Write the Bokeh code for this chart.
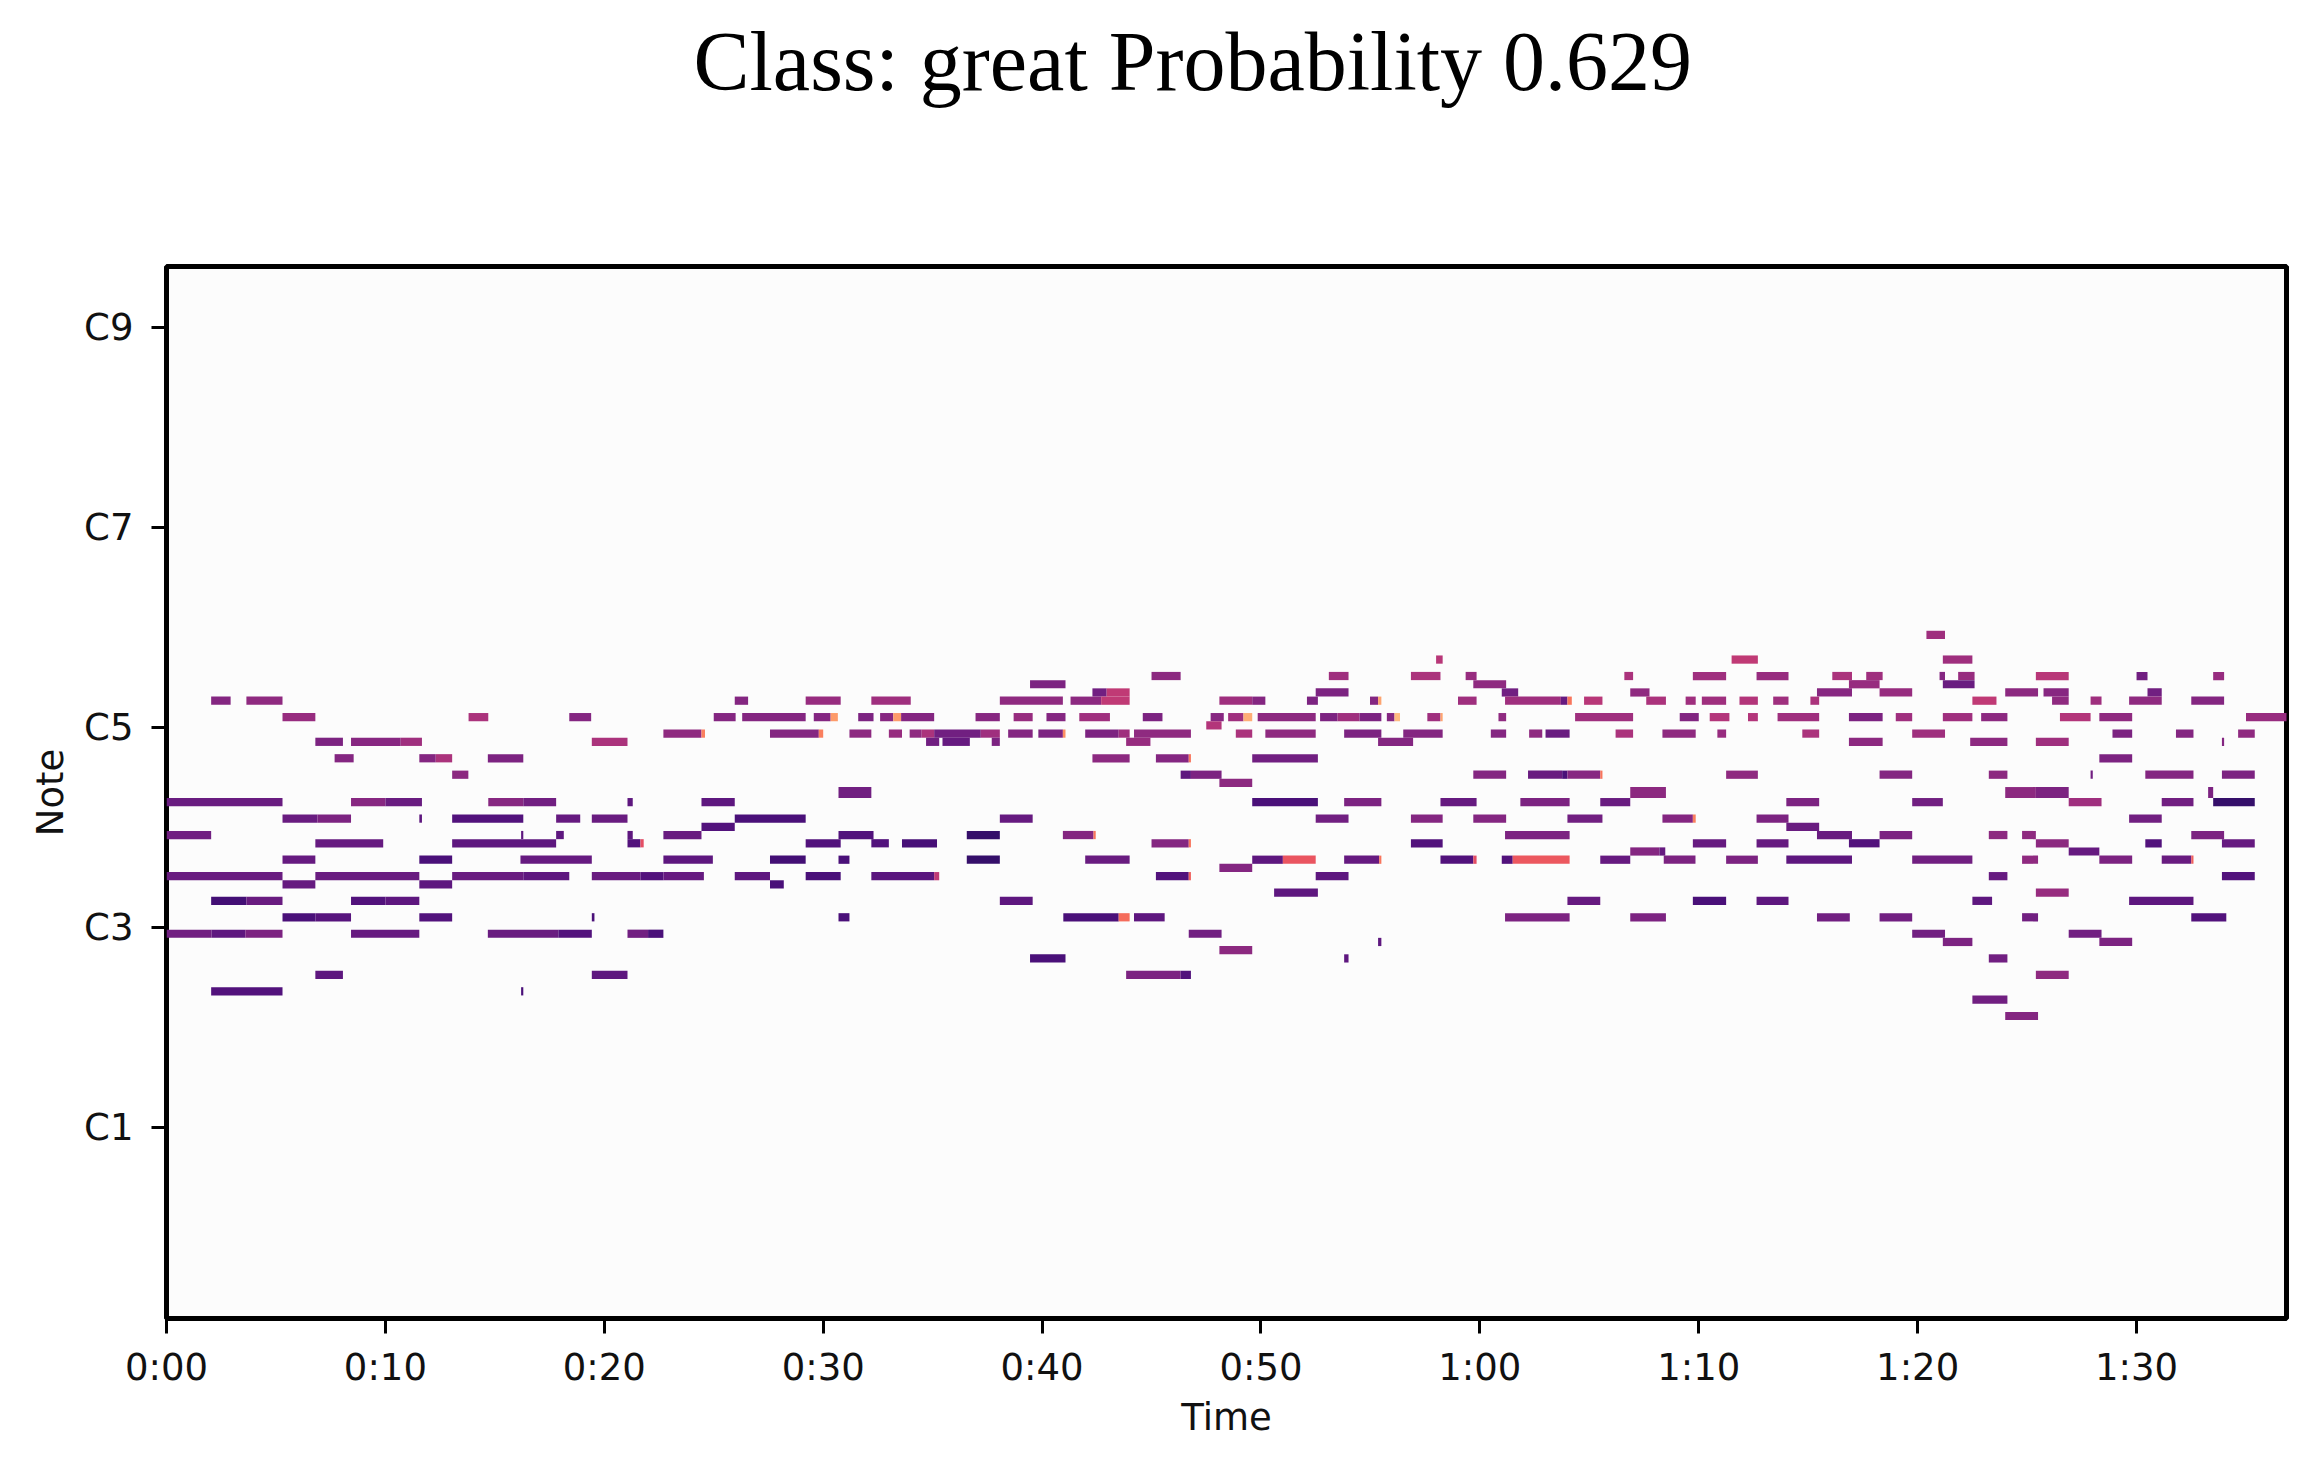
from bokeh.embed import file_html
from bokeh.models import ColumnDataSource, FixedTicker, Range1d, Title
from bokeh.palettes import Magma256
from bokeh.plotting import figure
from bokeh.resources import INLINE
from bokeh.transform import linear_cmap

TITLE = "Class: great Probability 0.629"
TIME_TICKS = [0, 10, 20, 30, 40, 50, 60, 70, 80, 90]
TIME_LABELS = ["0:00", "0:10", "0:20", "0:30", "0:40", "0:50", "1:00", "1:10", "1:20", "1:30"]
NOTE_TICKS = [24, 48, 72, 96, 120]
NOTE_LABELS = ["C1", "C3", "C5", "C7", "C9"]

# each row: (start second, end second, level 0..1)
row_83 = [(80.4, 81.25, .42)]
row_80 = [(58.0, 58.3, .48), (71.5, 72.7, .5), (81.15, 82.5, .42)]
row_78 = [(45, 46.33, .37), (53.1, 54, .42), (56.85, 58.2, .45), (59.35, 59.85, .4), (66.6, 67, .45),
          (69.73, 71.25, .42), (72.64, 74.1, .4), (76.1, 77, .45), (77.65, 78.4, .42), (81, 81.25, .35),
          (81.85, 82.6, .4), (85.4, 86.9, .48), (90, 90.5, .3), (93.5, 94, .4)]
row_77 = [(39.45, 41.07, .33), (59.7, 61.2, .38), (76.86, 78.26, .4), (81.15, 82.6, .28)]
row_76 = [(42.3, 42.95, .3), (42.95, 44, .5), (52.5, 54, .33), (61, 61.75, .3), (66.87, 67.75, .38),
          (75.4, 77, .36), (78.26, 79.75, .4), (84, 85.5, .37), (85.75, 86.9, .36), (90.5, 91.15, .3)]
row_75 = [(2.04, 2.93, .35), (3.65, 5.3, .38), (25.96, 26.57, .35), (29.2, 30.8, .4), (32.2, 34, .42),
          (38.07, 40.95, .38), (41.3, 42.7, .37), (42.7, 44, .5), (48.1, 49.6, .42), (49.6, 50.2, .35),
          (52.1, 52.6, .33), (54.98, 55.35, .35), (55.35, 55.5, .8), (59, 59.85, .42), (61.15, 63.7, .42),
          (63.7, 64, .27), (64, 64.2, .7), (64.76, 65.6, .48), (67.6, 68.5, .45), (69.4, 69.86, .42),
          (70.14, 71.25, .42), (71.86, 72.7, .47), (73.4, 74.1, .42), (75.1, 75.5, .45), (82.5, 83.6, .5),
          (86.14, 86.9, .38), (87.9, 88.4, .42), (89.66, 91.15, .38), (92.5, 94, .35)]
row_73 = [(5.3, 6.8, .4), (13.8, 14.7, .45), (18.4, 19.4, .35), (25, 26, .35), (26.3, 29.2, .35),
          (29.57, 30.34, .35), (30.34, 30.67, .78), (31.6, 32.3, .33), (32.6, 33.2, .36), (33.2, 33.56, .78),
          (33.56, 35.07, .35), (36.96, 38.07, .36), (38.7, 39.57, .4), (40.2, 41.07, .35), (41.7, 43.1, .42),
          (44.6, 45.5, .33), (47.7, 48.3, .36), (48.5, 49.2, .42), (49.2, 49.6, .82), (49.85, 52.5, .37),
          (52.7, 53.5, .33), (53.5, 54.5, .42), (54.5, 55.5, .33), (55.75, 56.1, .35), (56.1, 56.35, .85),
          (57.6, 58.2, .42), (58.2, 58.3, .8), (60.85, 61.2, .38), (64.35, 67, .42), (69.13, 70, .34),
          (70.5, 71.4, .47), (72.25, 72.7, .47), (73.6, 75.5, .42), (76.86, 78.4, .33), (79, 79.75, .42),
          (81.15, 82.5, .42), (82.9, 84.1, .37), (86.5, 87.9, .47), (88.3, 89.8, .38), (95, 97, .4)]
row_72 = [(47.5, 48.2, .47)]
row_71 = [(22.7, 24.44, .38), (24.44, 24.6, .72), (27.57, 29.8, .35), (29.8, 30, .72), (31.2, 32.2, .37),
          (33, 33.6, .4), (33.95, 34.5, .38), (34.5, 35.07, .45), (35.07, 37.2, .3), (37.2, 38.07, .42),
          (38.45, 39.57, .35), (39.83, 40.95, .33), (40.95, 41.07, .75), (41.97, 43.5, .33), (43.5, 44, .42),
          (44.2, 46.8, .38), (48.85, 49.6, .45), (50.2, 52.5, .38), (53.8, 55.5, .33), (56.5, 58.3, .35),
          (60.5, 61.2, .35), (62.25, 62.85, .38), (63, 64.1, .28), (66.2, 67, .45), (68.34, 69.86, .38),
          (70.85, 71.25, .4), (74.73, 75.5, .45), (79.75, 81.25, .42), (88.9, 89.8, .33), (91.8, 92.6, .35),
          (94.64, 95.4, .38)]
row_70 = [(6.8, 8.06, .33), (8.43, 10.7, .36), (10.7, 11.67, .42), (19.43, 21.06, .45), (34.7, 35.3, .3),
          (35.45, 36.7, .27), (37.7, 38.07, .33), (43.84, 44.95, .4), (55.35, 56.95, .35), (76.86, 78.4, .37),
          (82.4, 84.1, .37), (85.4, 86.9, .42), (93.9, 94, .35)]
row_68 = [(7.68, 8.55, .35), (11.55, 12.3, .35), (12.3, 13.05, .45), (14.68, 16.3, .33), (42.3, 44, .37),
          (45.2, 46.7, .35), (46.7, 46.8, .7), (49.6, 52.6, .3), (88.3, 89.8, .33)]
row_66 = [(13.05, 13.79, .37), (46.33, 46.8, .25), (46.8, 48.2, .33), (59.7, 61.2, .35), (62.2, 63.76, .28),
          (63.76, 64, .2), (64, 65.5, .36), (65.5, 65.6, .7), (71.25, 72.7, .38), (78.26, 79.75, .35),
          (83.25, 84.1, .37), (87.9, 88, .3), (90.4, 92.6, .35), (93.9, 95.4, .33)]
row_65 = [(48.1, 49.6, .37)]
row_64 = [(30.7, 32.2, .3), (66.87, 68.5, .37), (84, 85.4, .37), (85.4, 86.9, .33), (93.27, 93.5, .33)]
row_63 = [(0, 5.3, .28), (8.43, 10, .36), (10, 11.67, .28), (14.7, 16.3, .36), (16.3, 17.8, .3), (21.06, 21.3, .25),
          (24.44, 25.96, .25), (49.6, 52.6, .2), (53.8, 55.5, .33), (58.2, 59.85, .27), (61.85, 64.1, .33),
          (65.5, 66.87, .28), (74, 75.5, .33), (79.75, 81.15, .3), (86.9, 88.4, .42), (91.15, 92.6, .3),
          (93.5, 95.4, .15)]
row_61 = [(5.3, 6.9, .28), (6.9, 8.43, .33), (11.55, 11.67, .25), (13.05, 16.3, .22), (17.8, 18.9, .27),
          (19.43, 21.06, .28), (25.96, 29.2, .2), (38.07, 39.57, .27), (52.5, 54, .3), (56.85, 58.3, .35),
          (59.7, 61.2, .35), (64, 65.6, .3), (68.34, 69.73, .35), (69.73, 69.86, .72), (72.64, 74.1, .33),
          (89.66, 91.15, .3)]
row_60 = [(24.44, 25.96, .22), (74, 75.5, .28)]
row_59 = [(0, 2.04, .3), (16.2, 16.3, .25), (17.8, 18.15, .25), (21.06, 21.3, .25), (22.7, 24.44, .28),
          (30.7, 32.3, .22), (36.56, 38.07, .15), (40.95, 42.35, .35), (42.35, 42.45, .7), (61.15, 64.1, .33),
          (75.4, 77, .28), (78.26, 79.75, .33), (83.25, 84.1, .37), (84.77, 85.4, .38), (92.5, 94, .33)]
row_58 = [(6.8, 9.9, .27), (13.05, 17.8, .25), (21.06, 21.65, .22), (21.65, 21.8, .6), (29.2, 30.8, .22),
          (32.2, 33, .22), (33.6, 35.2, .19), (45, 46.7, .35), (46.7, 46.8, .7), (56.85, 58.3, .22),
          (69.73, 71.25, .27), (72.64, 74.1, .27), (76.86, 78.26, .22), (85.4, 86.9, .37), (90.4, 91.15, .22),
          (93.9, 95.4, .27)]
row_57 = [(66.87, 68.2, .35), (68.2, 68.47, .27), (86.9, 88.3, .27)]
row_56 = [(5.3, 6.8, .27), (11.55, 13.05, .2), (16.17, 19.43, .27), (22.7, 24.96, .25), (27.57, 29.2, .18),
          (30.7, 31.2, .2), (36.56, 38.07, .15), (41.97, 44, .28), (49.6, 51, .25), (51, 52.5, .62),
          (53.8, 55.4, .27), (55.4, 55.5, .7), (58.2, 59.7, .22), (59.7, 59.85, .6), (61, 61.5, .22),
          (61.5, 64.1, .63), (65.5, 66.87, .27), (68.4, 69.85, .33), (71.25, 72.7, .33), (74, 77, .25),
          (79.75, 82.5, .3), (84.77, 85.5, .38), (88.3, 89.8, .33), (91.15, 92.5, .28), (92.5, 92.6, .65)]
row_55 = [(48.1, 49.6, .35)]
row_54 = [(0, 5.3, .28), (6.8, 11.55, .28), (13.05, 16.3, .28), (16.3, 18.4, .25), (19.43, 21.65, .28),
          (21.65, 22.7, .22), (22.7, 24.55, .27), (25.96, 27.57, .25), (29.2, 30.8, .2), (32.2, 35.07, .24),
          (35.07, 35.3, .5), (45.2, 46.7, .22), (46.7, 46.8, .65), (52.5, 54, .25), (83.25, 84.1, .27),
          (93.9, 95.4, .22)]
row_53 = [(5.3, 6.8, .27), (11.55, 13.05, .25), (27.57, 28.2, .2)]
row_52 = [(50.6, 52.6, .25), (85.4, 86.9, .4)]
row_51 = [(2.04, 3.65, .18), (3.65, 5.3, .28), (8.43, 10, .22), (10, 11.55, .25), (38.07, 39.57, .25),
          (64, 65.5, .27), (69.73, 71.25, .2), (72.64, 74.1, .25), (82.5, 83.4, .25), (89.66, 92.6, .25)]
row_49 = [(5.3, 6.8, .2), (6.8, 8.43, .23), (11.55, 13.05, .22), (19.43, 19.55, .2), (30.7, 31.2, .2),
          (40.97, 43.5, .2), (43.5, 44, .68), (44.2, 45.6, .25), (61.15, 64.1, .33), (66.87, 68.5, .33),
          (75.4, 76.9, .3), (78.26, 79.75, .3), (84.77, 85.5, .3), (92.5, 94.1, .22)]
row_47 = [(0, 2.06, .3), (2.06, 3.6, .25), (3.6, 5.3, .33), (8.43, 11.55, .27), (14.68, 17.9, .28), (17.9, 19.43, .22),
          (21.06, 22, .3), (22, 22.7, .2), (46.7, 48.2, .3), (79.75, 81.25, .3), (86.9, 88.4, .3)]
row_46 = [(55.35, 55.5, .25), (81.15, 82.5, .33), (88.3, 89.8, .33)]
row_45 = [(48.1, 49.6, .37)]
row_44 = [(39.45, 41.07, .2), (53.8, 54, .25), (83.25, 84.1, .3)]
row_42 = [(6.8, 8.06, .25), (19.43, 21.06, .25), (43.84, 46.33, .33), (46.33, 46.8, .22), (85.4, 86.9, .38)]
row_40 = [(2.04, 5.3, .22), (16.2, 16.3, .2)]
row_39 = [(82.5, 84.1, .3)]
row_37 = [(84, 85.5, .35)]

rows = {83: row_83, 80: row_80, 78: row_78, 77: row_77, 76: row_76, 75: row_75, 73: row_73, 72: row_72,
        71: row_71, 70: row_70, 68: row_68, 66: row_66, 65: row_65, 64: row_64, 63: row_63, 61: row_61,
        60: row_60, 59: row_59, 58: row_58, 57: row_57, 56: row_56, 55: row_55, 54: row_54, 53: row_53,
        52: row_52, 51: row_51, 49: row_49, 47: row_47, 46: row_46, 45: row_45, 44: row_44, 42: row_42,
        40: row_40, 39: row_39, 37: row_37}


def row_centre(n):
    # The source image was resampled: rows are slightly narrower than a semitone
    # and the row at note 64 is about a quarter thicker than the rest.
    return n + (0.4 if n >= 65 else 0.07) - 0.013 * (n - 64)


ROW_H = 0.987


def row_edges(n):
    if n == 64:
        return row_centre(63) + ROW_H / 2, row_centre(65) - ROW_H / 2
    return row_centre(n) - ROW_H / 2, row_centre(n) + ROW_H / 2


left, right, bottom, top, level = [], [], [], [], []
for n, segs in rows.items():
    b, t = row_edges(n)
    for s, e, v in segs:
        left.append(s)
        right.append(e)
        bottom.append(b)
        top.append(t)
        level.append(v)
src = ColumnDataSource(dict(left=left, right=right, bottom=bottom, top=top, level=level))

INK = "#111111"
p = figure(width=2300, height=1450, output_backend="svg", toolbar_location=None,
           x_range=Range1d(0, 96.85), y_range=Range1d(1.12, 127.36),
           frame_width=2120, frame_height=1052,
           min_border_left=166, min_border_top=266, min_border_right=5, min_border_bottom=20,
           background_fill_color="#fcfcfc", border_fill_color="#ffffff")
p.grid.visible = False
p.outline_line_color = "#000000"
p.outline_line_width = 5

p.quad(left="left", right="right", bottom="bottom", top="top", source=src, line_color=None,
       fill_color=linear_cmap("level", Magma256, -0.05, 1))

p.title.text = TITLE
p.title.text_font = "Liberation Serif"
p.title.text_font_size = "84px"
p.title.text_font_style = "normal"
p.title.text_color = "#000000"
p.title.align = "left"
p.title.vertical_align = "top"
p.title.offset = 527
p.title.standoff = 0

# Blank panel between the title and the frame, which lifts the title to the top of the page.
p.add_layout(Title(text=" ", text_font_size="4px", standoff=150), "above")

for ax in (p.xaxis[0], p.yaxis[0]):
    ax.axis_line_color = None
    ax.major_tick_line_color = "#000000"
    ax.major_tick_line_width = 3
    ax.major_tick_out = 15
    ax.major_tick_in = 0
    ax.minor_tick_line_color = None
    ax.major_label_text_font = "DejaVu Sans"
    ax.major_label_text_font_size = "37px"
    ax.major_label_text_color = INK
    ax.axis_label_text_font = "DejaVu Sans"
    ax.axis_label_text_font_size = "37px"
    ax.axis_label_text_font_style = "normal"
    ax.axis_label_text_color = INK

p.xaxis[0].ticker = FixedTicker(ticks=TIME_TICKS)
p.xaxis[0].major_label_overrides = dict(zip(TIME_TICKS, TIME_LABELS))
p.xaxis[0].axis_label = "Time"
p.xaxis[0].major_label_standoff = 12
p.xaxis[0].axis_label_standoff = 4
p.yaxis[0].ticker = FixedTicker(ticks=NOTE_TICKS)
p.yaxis[0].major_label_overrides = dict(zip(NOTE_TICKS, NOTE_LABELS))
p.yaxis[0].axis_label = "Note"
p.yaxis[0].major_label_standoff = 18
p.yaxis[0].axis_label_standoff = 9

open("out.html", "w").write(file_html(p, INLINE))
